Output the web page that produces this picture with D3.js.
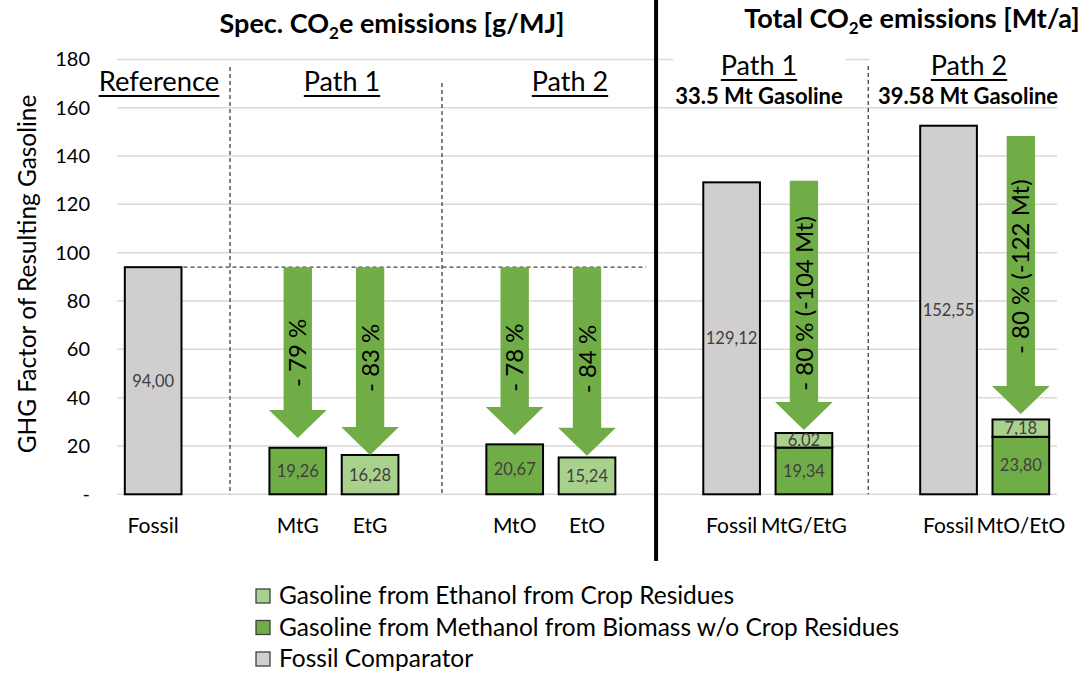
<!DOCTYPE html>
<html>
<head>
<meta charset="utf-8">
<script src="https://cdn.jsdelivr.net/npm/d3@7"></script>
<style>
  html, body { margin: 0; padding: 0; background: #fff; }
  svg { display: block; font-family: Lato, "Open Sans", sans-serif; }
</style>
</head>
<body>
<svg id="chart" width="1091" height="673"></svg>
<script>
// ---- data -------------------------------------------------------------
const categories = ["Fossil", "", "MtG", "EtG", "", "MtO", "EtO", "", "Fossil", "MtG/EtG", "", "Fossil", "MtO/EtO"];
const fossil   = [94.00, null, null, null, null, null, null, null, 129.12, null, null, 152.55, null];
const methanol = [null, null, 19.26, null, null, 20.67, null, null, null, 19.34, null, null, 23.80];
const ethanol  = [null, null, null, 16.28, null, null, 15.24, null, null, 6.02, null, null, 7.18];
const yTicks = [0, 20, 40, 60, 80, 100, 120, 140, 160, 180];

// reduction arrows: category index, start value, tip value, label, label centre value
const arrowCat   = [2, 3, 5, 6, 9, 12];
const arrowFrom  = [94, 94, 94, 94, 129.8, 148.3];
const arrowTo    = [23.3, 16.3, 24.5, 16.0, 26.6, 33.2];
const arrowText  = ["- 79 %", "- 83 %", "- 78 %", "- 84 %", "- 80 % (-104 Mt)", "- 80 % (-122 Mt)"];
const arrowMid   = [58.5, 56.5, 56.6, 56.0, 79, 94.2];

const legendNames = ["Gasoline from Ethanol from Crop Residues",
                     "Gasoline from Methanol from Biomass w/o Crop Residues",
                     "Fossil Comparator"];

// ---- layout -----------------------------------------------------------
const W = 1091, H = 673;
const plotL = 117, plotR = 1057, plotT = 59.4, plotB = 494.3;
const COL = { fossil: "#D0CECE", meth: "#70AD47", eth: "#A9D18E", grid: "#D9D9D9", label: "#404040" };

const svg = d3.select("#chart");
svg.append("rect").attr("width", W).attr("height", H).attr("fill", "#fff");

const x = d3.scaleBand().domain(d3.range(categories.length))
  .range([plotL, plotR]).paddingInner(0.216).paddingOuter(0.108);
const y = d3.scaleLinear().domain([0, 180]).range([plotB, plotT]);
const bw = x.bandwidth();
const cx = i => x(i) + bw / 2;
const pos = k => plotL + x.step() * k;   // position in category steps

// gridlines
svg.append("g").selectAll("line").data(yTicks).join("line")
  .attr("x1", plotL).attr("x2", plotR)
  .attr("y1", d => y(d)).attr("y2", d => y(d))
  .attr("stroke", COL.grid).attr("stroke-width", 1.5);

// y axis labels
const yAxis = d3.axisLeft(y).tickValues(yTicks).tickSize(0).tickPadding(0)
  .tickFormat(d => d === 0 ? "-" : d);
svg.append("g").attr("transform", `translate(${plotL - 27},0)`).call(yAxis)
  .call(g => g.select(".domain").remove())
  .selectAll("text").attr("font-size", 20).attr("fill", "#000")
  .attr("font-family", "Lato, sans-serif");

svg.append("text")
  .attr("transform", `translate(36,274) rotate(-90)`)
  .attr("text-anchor", "middle").attr("font-size", 24.4).attr("fill", "#000")
  .text("GHG Factor of Resulting Gasoline");

// category labels
svg.append("g").selectAll("text").data(categories).join("text")
  .attr("x", (d, i) => cx(i)).attr("y", 533)
  .attr("text-anchor", "middle").attr("font-size", 21).attr("fill", "#000")
  .text(d => d);

// white boxes behind the total-emission path headers
svg.append("rect").attr("x", 673).attr("y", 44).attr("width", 173).attr("height", 60).attr("fill", "#fff");
svg.append("rect").attr("x", 870).attr("y", 44).attr("width", 200).attr("height", 60).attr("fill", "#fff");

// separators
const dash = "4,3";
[[pos(1.563), 67], [pos(4.495), 83], [pos(10.39), 66]].forEach(([px, top]) => {
  svg.append("line").attr("x1", px).attr("x2", px).attr("y1", top).attr("y2", plotB)
    .attr("stroke", "#404040").attr("stroke-width", 1.3).attr("stroke-dasharray", dash);
});
svg.append("line").attr("x1", x(0) + bw + 2).attr("x2", pos(7.455) - 10)
  .attr("y1", y(fossil[0])).attr("y2", y(fossil[0]))
  .attr("stroke", "#404040").attr("stroke-width", 1.3).attr("stroke-dasharray", dash);
svg.append("line").attr("x1", pos(7.455)).attr("x2", pos(7.455)).attr("y1", 0).attr("y2", 561)
  .attr("stroke", "#000").attr("stroke-width", 4);

// bars
const bars = svg.append("g");
function drawBar(i, y0, y1, fill, v) {
  bars.append("rect").attr("x", x(i)).attr("width", bw)
    .attr("y", y(y1)).attr("height", y(y0) - y(y1))
    .attr("fill", fill).attr("stroke", "#000").attr("stroke-width", 2);
  bars.append("text").attr("x", cx(i)).attr("y", (y(y0) + y(y1)) / 2)
    .attr("dy", "0.36em").attr("text-anchor", "middle")
    .attr("font-size", 16.5).attr("fill", COL.label)
    .text(v.toFixed(2).replace(".", ","));
}
categories.forEach((c, i) => {
  if (fossil[i] != null) drawBar(i, 0, fossil[i], COL.fossil, fossil[i]);
  let base = 0;
  if (methanol[i] != null) { drawBar(i, 0, methanol[i], COL.meth, methanol[i]); base = methanol[i]; }
  if (ethanol[i] != null) drawBar(i, base, base + ethanol[i], COL.eth, ethanol[i]);
});

// reduction arrows
const headH = 28;
arrowCat.forEach((c, k) => {
  const xc = cx(c), top = y(arrowFrom[k]), tip = y(arrowTo[k]);
  const sw = bw / 2, hw = bw / 2 + 0.5, hs = tip - headH;
  const path = d3.path();
  path.moveTo(xc - sw / 2, top); path.lineTo(xc + sw / 2, top);
  path.lineTo(xc + sw / 2, hs); path.lineTo(xc + hw, hs);
  path.lineTo(xc, tip); path.lineTo(xc - hw, hs);
  path.lineTo(xc - sw / 2, hs); path.closePath();
  svg.append("path").attr("d", path.toString()).attr("fill", COL.meth);
  svg.append("text")
    .attr("transform", `translate(${xc},${y(arrowMid[k])}) rotate(-90)`)
    .attr("text-anchor", "middle").attr("dy", "0.36em")
    .attr("font-size", 24).attr("fill", "#000").text(arrowText[k]);
});

// titles
function co2Title(xc, yb, pre, post) {
  const t = svg.append("text").attr("x", xc).attr("y", yb).attr("text-anchor", "middle")
    .attr("font-size", 27).attr("font-weight", "bold").attr("fill", "#000");
  t.append("tspan").text(pre + "CO");
  t.append("tspan").attr("font-size", 17).attr("dy", 6).text("2");
  t.append("tspan").attr("dy", -6).text(post);
}
co2Title(392, 33, "Spec. ", "e emissions [g/MJ]");
co2Title(912, 28, "Total ", "e emissions [Mt/a]");

// path headers (underlined)
function header(xc, yb, txt, size) {
  const t = svg.append("text").attr("x", xc).attr("y", yb).attr("text-anchor", "middle")
    .attr("font-size", size).attr("fill", "#000").text(txt);
  const w = t.node().getComputedTextLength();
  svg.append("line").attr("x1", xc - w / 2).attr("x2", xc + w / 2)
    .attr("y1", yb + 5).attr("y2", yb + 5).attr("stroke", "#000").attr("stroke-width", 1.8);
}
header(159, 91, "Reference", 27.4);
header(342, 91, "Path 1", 27);
header(570, 91, "Path 2", 27);
header(759, 75, "Path 1", 27);
header(969, 75, "Path 2", 27);
svg.append("text").attr("x", 759).attr("y", 104).attr("text-anchor", "middle")
  .attr("font-size", 22).attr("font-weight", "bold").text("33.5 Mt Gasoline");
svg.append("text").attr("x", 968).attr("y", 104).attr("text-anchor", "middle")
  .attr("font-size", 22).attr("font-weight", "bold").text("39.58 Mt Gasoline");

// legend
const legFill = [COL.eth, COL.meth, COL.fossil];
const leg = svg.append("g").selectAll("g").data(legendNames).join("g")
  .attr("transform", (d, i) => `translate(256,${596 + i * 31.5})`);
leg.append("rect").attr("x", 0).attr("y", -7).attr("width", 14).attr("height", 14)
  .attr("fill", (d, i) => legFill[i]).attr("stroke", "#404040").attr("stroke-width", 1.3);
leg.append("text").attr("x", 23).attr("dy", "0.34em").attr("font-size", 24.5).attr("fill", "#000")
  .text(d => d);
</script>
</body>
</html>
